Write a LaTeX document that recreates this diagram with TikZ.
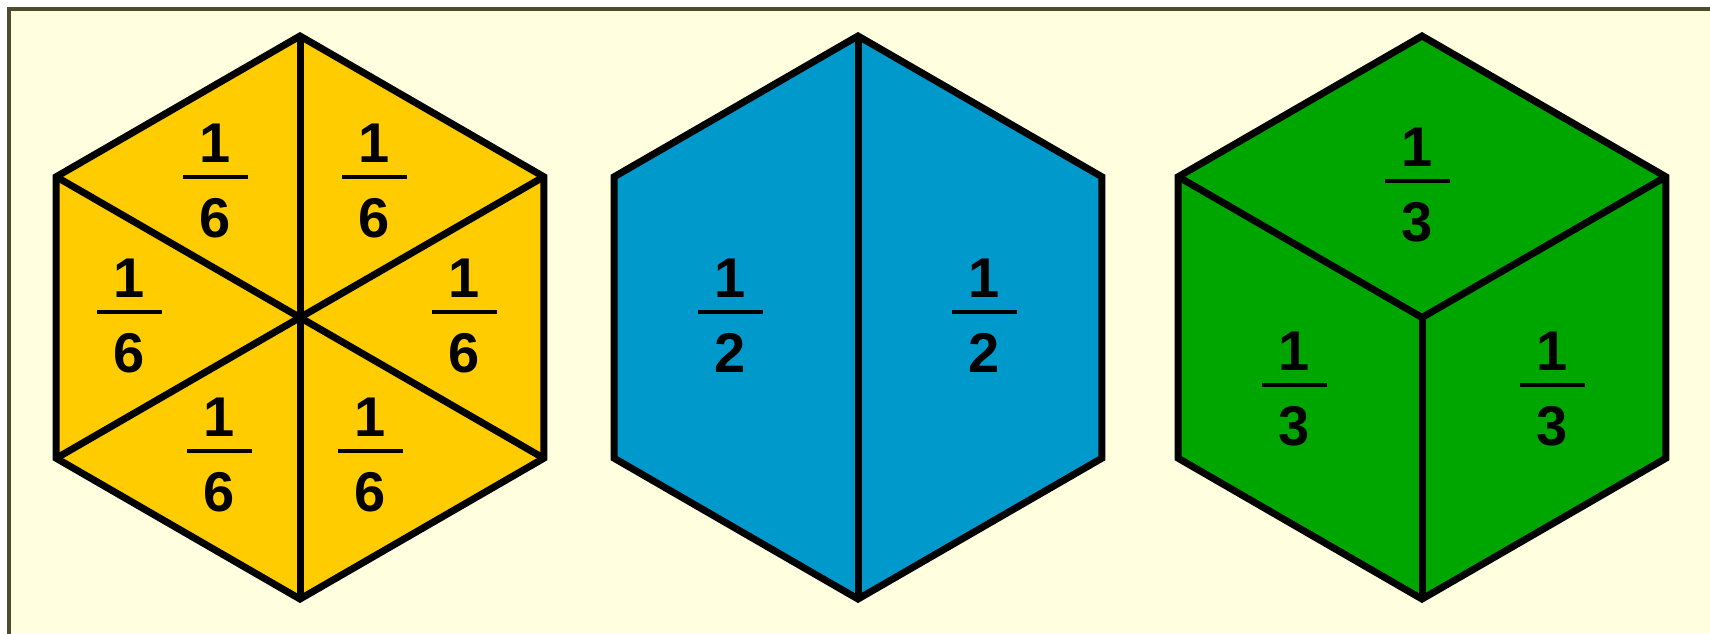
\documentclass[tikz,border=0pt]{standalone}
\usepackage{fontspec}
\setmainfont{Liberation Sans}
\definecolor{bgc}{RGB}{255,255,224}
\definecolor{framec}{RGB}{78,76,46}
\definecolor{yel}{RGB}{255,204,0}
\definecolor{blu}{RGB}{0,153,204}
\definecolor{grn}{RGB}{0,166,0}
\newcommand\myhex[2]{%
  \coordinate (#1c) at (#2,317.5);
  \coordinate (#1t) at (#2,36);
  \coordinate (#1ul) at ({#2-243.8},176.75);
  \coordinate (#1ll) at ({#2-243.8},458.25);
  \coordinate (#1b) at (#2,599);
  \coordinate (#1lr) at ({#2+243.8},458.25);
  \coordinate (#1ur) at ({#2+243.8},176.75);
}
\newcommand\myfrac[4]{%
  \node[dig] (#1n) at (#2,{#3-15}) {1};
  \node[dig] (#1d) at (#2,{#3+60}) {#4};
  \draw[fbar] ({#2-32.5},#3) -- ({#2+32.5},#3);
}
\begin{document}
\begin{tikzpicture}[x=1pt,y=-1pt,
  dig/.style={font=\fontsize{56}{60}\selectfont\bfseries, inner sep=0pt, anchor=base},
  fbar/.style={line width=3.8pt},
  edge/.style={line width=7pt, line join=miter},
]
\useasboundingbox (0,0) rectangle (1710,633);
\fill[white] (0,0) rectangle (1710,633);
\fill[bgc] (9,9) rectangle (1710,633);
\draw[framec, line width=4.5pt] (9,640) -- (9,9) -- (1720,9);

% hexagon 1 (sixths)
\myhex{A}{300}
\fill[yel] (At) -- (Aul) -- (All) -- (Ab) -- (Alr) -- (Aur) -- cycle;
\draw[edge] (At) -- (Ab);
\draw[edge] (Aul) -- (Alr);
\draw[edge] (All) -- (Aur);
\draw[edge] (At) -- (Aul) -- (All) -- (Ab) -- (Alr) -- (Aur) -- cycle;

% hexagon 2 (halves)
\myhex{B}{858}
\fill[blu] (Bt) -- (Bul) -- (Bll) -- (Bb) -- (Blr) -- (Bur) -- cycle;
\draw[edge] (Bt) -- (Bb);
\draw[edge] (Bt) -- (Bul) -- (Bll) -- (Bb) -- (Blr) -- (Bur) -- cycle;

% hexagon 3 (thirds)
\myhex{C}{1422}
\fill[grn] (Ct) -- (Cul) -- (Cll) -- (Cb) -- (Clr) -- (Cur) -- cycle;
\draw[edge] (Cul) -- (Cc) -- (Cur);
\draw[edge] (Cc) -- (Cb);
\draw[edge] (Ct) -- (Cul) -- (Cll) -- (Cb) -- (Clr) -- (Cur) -- cycle;

% labels
\myfrac{a1}{215}{177}{6}
\myfrac{a2}{374.5}{177}{6}
\myfrac{a3}{129}{312}{6}
\myfrac{a4}{464}{312}{6}
\myfrac{a5}{219}{451}{6}
\myfrac{a6}{370.5}{451}{6}
\myfrac{b1}{730.5}{312}{2}
\myfrac{b2}{984}{312}{2}
\myfrac{c1}{1417}{181}{3}
\myfrac{c2}{1294}{385}{3}
\myfrac{c3}{1552.5}{385}{3}
\end{tikzpicture}
\end{document}
